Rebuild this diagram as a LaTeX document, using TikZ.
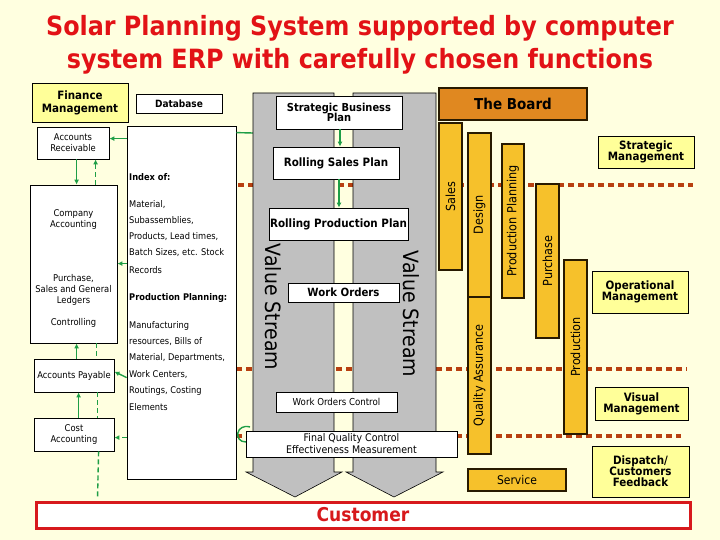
\documentclass[tikz,border=0pt]{standalone}
\usepackage{fontspec}
\setmainfont{DejaVu Sans Condensed}
\usetikzlibrary{arrows.meta,calc}
\definecolor{bgc}{RGB}{255,255,224}
\definecolor{titlered}{RGB}{226,18,22}
\definecolor{lyel}{RGB}{255,255,153}
\definecolor{boardor}{RGB}{224,136,32}
\definecolor{gold}{RGB}{246,193,43}
\definecolor{colbd}{RGB}{40,26,0}
\definecolor{vsgray}{RGB}{192,192,192}
\definecolor{dotc}{RGB}{184,64,16}
\definecolor{gr}{RGB}{30,158,70}
\definecolor{custred}{RGB}{215,25,28}
\tikzset{
  wbox/.style={draw=black, fill=white, line width=0.8pt, inner sep=0pt, align=center},
  ybox/.style={wbox, fill=lyel},
  colbox/.style={draw=colbd, fill=gold, line width=1.6pt, inner sep=0pt, align=center, font=\fontsize{12.5}{14}\selectfont},
  dotl/.style={draw=dotc, line width=4.5pt, dash pattern=on 6pt off 4pt},
  gline/.style={draw=gr, line width=1.4pt},
  garrow/.style={gline, -{Latex[length=5pt,width=5pt]}},
  gdash/.style={gline, dash pattern=on 5pt off 3pt},
  vsarrow/.style={draw=black, fill=vsgray, line width=0.6pt},
  small/.style={font=\fontsize{9.3}{11}\selectfont},
  idxt/.style={font=\fontsize{9.2}{11}\selectfont, anchor=west, inner sep=0pt},
  bsmall/.style={font=\bfseries\fontsize{11}{12.5}\selectfont},
  bmid/.style={font=\bfseries\fontsize{11.5}{13}\selectfont},
  vstext/.style={rotate=-90, font=\fontsize{21}{24}\selectfont},
}
\begin{document}
\begin{tikzpicture}[x=1pt,y=-1pt]
\useasboundingbox (0,0) rectangle (720,540);
\fill[bgc] (0,0) rectangle (720,540);

% title
\node[font=\bfseries\fontsize{26.5}{30}\selectfont, text=titlered] (t1) at (360,28) {Solar Planning System supported by computer};
\node[font=\bfseries\fontsize{26.5}{30}\selectfont, text=titlered] (t2) at (360,61) {system ERP with carefully chosen functions};

% separator lines
\draw[dotl] (238,185) -- (693,185);
\draw[dotl] (236,369) -- (687,369);
\draw[dotl] (236,436) -- (681,436);

% left side boxes
\node[ybox, bmid, minimum width=96, minimum height=39] (fin) at (80,102.5) {Finance\\Management};
\node[wbox, font=\bfseries\fontsize{10}{12}\selectfont, minimum width=86, minimum height=19] (db) at (179,103.5) {Database};
\node[wbox, small, minimum width=72, minimum height=32] (ar) at (73,143) {Accounts\\Receivable};
\node[wbox, minimum width=109, minimum height=353] (idx) at (181.5,302.5) {};
\node[wbox, minimum width=87, minimum height=158] (ca) at (73.5,264) {};
\node[small, align=center] (catx1) at (73.5,220) {Company\\Accounting};
\node[small, align=center] (catx2) at (73.5,290) {Purchase,\\Sales and General\\Ledgers};
\node[small, align=center] (catx3) at (73.5,323) {Controlling};
\node[wbox, small, minimum width=80, minimum height=33] (ap) at (74,375.5) {Accounts Payable};
\node[wbox, small, minimum width=80, minimum height=33] (cost) at (74,434.5) {Cost\\Accounting};

% index text
\node[idxt, font=\bfseries\fontsize{9.2}{11}\selectfont] (ix0) at (129,177) {Index of:};
\foreach \ty/\tx [count=\i] in {205/{Material,}, 221/{Subassemblies,}, 237/{Products, Lead times,}, 253/{Batch Sizes, etc. Stock}, 270/{Records}, 326/{Manufacturing}, 342/{resources, Bills of}, 358/{Material, Departments,}, 375/{Work Centers,}, 391/{Routings, Costing}, 407/{Elements}}
  \node[idxt] (ixl\i) at (129,\ty) {\tx};
\node[idxt, font=\bfseries\fontsize{9.2}{11}\selectfont] (ixp) at (129,298) {Production Planning:};

% green connectors on the left
\draw[garrow] ($(idx.north west)+(0,13)$) -- ($(ar.north east)+(0,12)$);
\draw[garrow] ($(ar.south west)+(40,0)$) -- ($(ca.north west)+(47,0)$);
\draw[gdash, -{Latex[length=5pt,width=5pt]}] ($(ca.north west)+(66,0)$) -- ($(ar.south west)+(59,0)$);
\draw[garrow] ($(idx.north west)+(0,138)$) -- ($(ca.north east)+(0,79)$);
\draw[garrow] ($(ap.north west)+(43,0)$) -- ($(ca.south west)+(47,0)$);
\draw[gdash] ($(ca.south west)+(67,0)$) -- ($(ap.north west)+(63,0)$);
\draw[garrow] ($(idx.north west)+(0,252)$) -- ($(ap.north east)+(0,13)$);
\draw[garrow] ($(cost.north west)+(45,0)$) -- ($(ap.south west)+(45,0)$);
\draw[gdash] ($(ap.south west)+(64,0)$) -- ($(cost.north west)+(64,0)$);
\draw[gdash, -{Latex[length=5pt,width=5pt]}] ($(idx.north west)+(0,312)$) -- ($(cost.north east)+(0,20)$);
\coordinate (vsl) at (253,133);
\draw[gline] ($(idx.north east)+(0,7)$) -- (vsl);
\draw[gline] (250,427) .. controls (236,423) and (233,442) .. (246,442);

% value stream arrows
\draw[vsarrow] (253,93) -- (334,93) -- (334,472) -- (342,472) -- (295,497) -- (246,472) -- (253,472) -- cycle;
\draw[vsarrow] (353,93) -- (436,93) -- (436,472) -- (443,472) -- (394,497) -- (346,472) -- (353,472) -- cycle;
\node[vstext] (vs1) at (273,307) {Value Stream};
\node[vstext] (vs2) at (411,314) {Value Stream};

% customer
\node[draw=custred, fill=white, line width=3pt, minimum width=654, minimum height=26, inner sep=0pt, text=custred, font=\bfseries\fontsize{19}{22}\selectfont] (cust) at (363,515) {Customer};
\draw[gdash] ($(cost.south west)+(65,0)$) -- ($(cust.north west)+(63,-1.5)$);

% planning boxes
\node[wbox, bsmall, minimum width=126, minimum height=33] (sbp) at (339,112.5) {Strategic Business\\[-2pt]Plan};
\node[wbox, bmid, minimum width=126, minimum height=32] (rsp) at (336,163) {Rolling Sales Plan};
\node[wbox, bmid, minimum width=139, minimum height=32] (rpp) at (338.5,224) {Rolling Production Plan};
\node[wbox, font=\bfseries\fontsize{11.3}{13}\selectfont, minimum width=111, minimum height=19] (wo) at (343.5,292.5) {Work Orders};
\node[wbox, font=\fontsize{9.6}{11}\selectfont, minimum width=121, minimum height=20] (woc) at (336.5,402) {Work Orders Control};
\node[wbox, font=\fontsize{10.5}{12}\selectfont, minimum width=211, minimum height=26] (fqc) at (351.5,444) {Final Quality Control\\Effectiveness Measurement};
\coordinate (s1) at ($(sbp.south)+(1,0)$);
\draw[garrow] (s1) -- (s1 |- rsp.north);
\coordinate (s2) at ($(rsp.south)+(3,0)$);
\draw[garrow] (s2) -- (s2 |- rpp.north);

% the board and columns
\node[draw=colbd, fill=boardor, line width=1.6pt, minimum width=148, minimum height=32, inner sep=0pt, font=\bfseries\fontsize{15}{17}\selectfont] (board) at (513,104) {The Board};
\node[colbox, rotate=90, minimum width=147, minimum height=23] (sales) at (450.5,196.5) {Sales};
\node[colbox, rotate=90, minimum width=164, minimum height=23] (design) at (479.5,215) {Design};
\node[colbox, rotate=90, minimum width=157, minimum height=23] (qa) at (479.5,375.5) {Quality Assurance};
\node[colbox, rotate=90, minimum width=154, minimum height=22] (pp) at (513,221) {Production Planning};
\node[colbox, rotate=90, minimum width=154, minimum height=23] (purch) at (547.5,261) {Purchase};
\node[colbox, rotate=90, minimum width=174, minimum height=23] (prod) at (575.5,347) {Production};
\node[colbox, font=\fontsize{12}{14}\selectfont, minimum width=98, minimum height=22] (serv) at (517,480) {Service};

% management boxes
\node[ybox, bmid, minimum width=96, minimum height=32] (sm) at (646,152) {Strategic\\[-2pt]Management};
\node[ybox, bmid, minimum width=96, minimum height=42] (om) at (640,292) {Operational\\[-2pt]Management};
\node[ybox, bmid, minimum width=93, minimum height=33] (vm) at (641.5,403.5) {Visual\\[-2pt]Management};
\node[ybox, bmid, minimum width=97, minimum height=51] (dcf) at (640.5,471.5) {Dispatch/\\[-2pt]Customers\\[-2pt]Feedback};
\end{tikzpicture}
\end{document}
